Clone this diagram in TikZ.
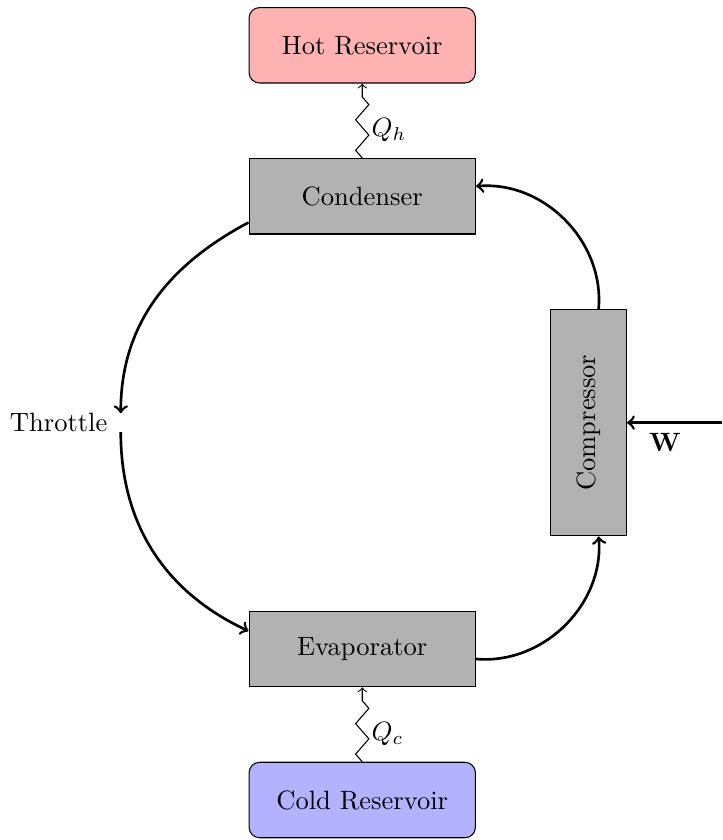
\documentclass[tikz,border=0pt]{standalone}
\usepackage{xcolor}
\usepackage{graphicx}
\usetikzlibrary{arrows.meta, calc, decorations.pathmorphing}

\begin{document}
\begin{tikzpicture}[>=to,
    unit/.style={draw, fill=black!30, minimum width=3cm, minimum height=1cm},
    reservoir/.style={draw, rounded corners=4pt, minimum width=3cm, minimum height=1cm},
    flow/.style={->, line width=1pt},
    heat/.style={->, decorate, decoration={zigzag, segment length=11.5pt, amplitude=2.5pt, post length=1.5mm}}]
  \useasboundingbox (-4.8,2.6) rectangle (4.77,-8.53);
  \node[reservoir, fill=red!30] (hot) at (0.0,2.0) {Hot Reservoir};
  \node[unit] (condenser) at (0.0,0.0) {Condenser};
  \node[unit, minimum width=1cm, minimum height=3cm] (compressor) at (3.0,-3.0) {\rotatebox{90}{Compressor}};
  \node[unit] (evaporator) at (0.0,-6.0) {Evaporator};
  \node[reservoir, fill=blue!30] (cold) at (0.0,-8.0) {Cold Reservoir};
  \node[label={[label distance=-2pt]left:Throttle}] (throttle) at (-3.2,-3.0) {};
  \coordinate (work) at (4.77,-3.0);

  \draw[flow] (condenser.193) to[out=208, in=90] (throttle);
  \draw[flow] (throttle) to[out=-90, in=155] (evaporator.171);
  \draw[flow] (evaporator) to[bend right=50] (compressor);
  \draw[flow] (compressor) to[bend right=50] (condenser);
  \draw[flow] (work) -- (compressor) node[pos=0.6, below] {$\mathbf{W}$};
  \draw[heat] (condenser) -- (hot) node[pos=0.37, right] {$Q_h$};
  \draw[heat] (cold) -- (evaporator) node[pos=0.37, right] {$Q_c$};
\end{tikzpicture}
\end{document}
